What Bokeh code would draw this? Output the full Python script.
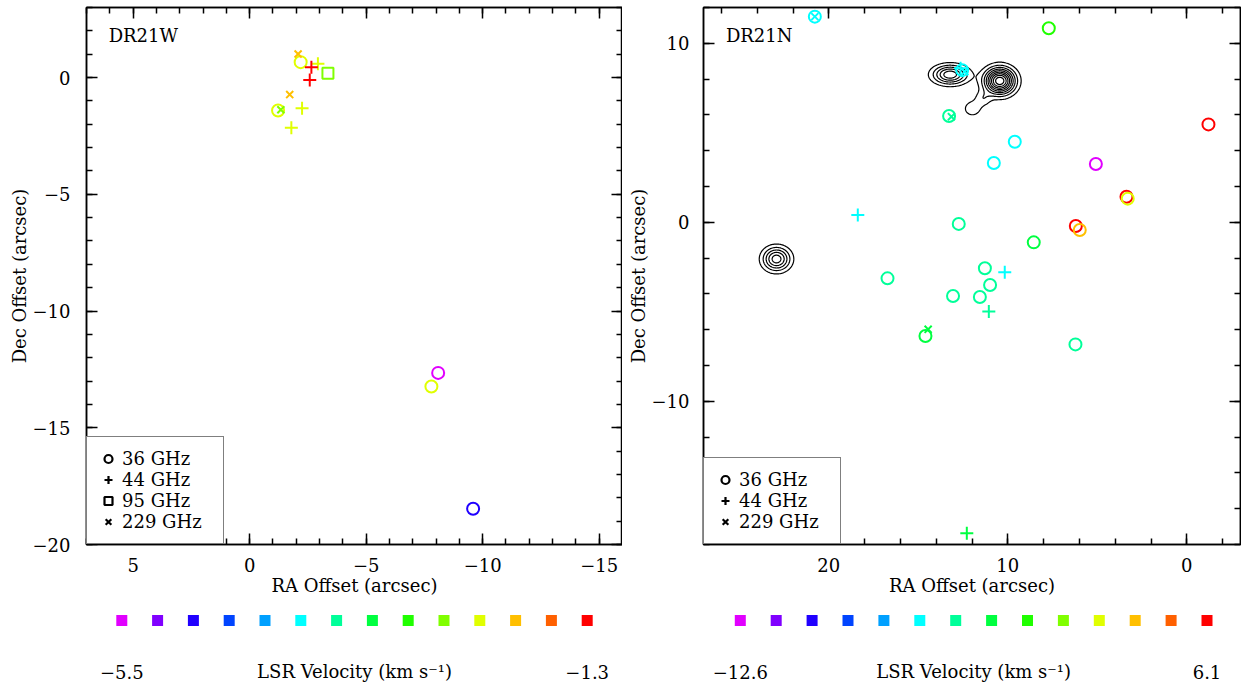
import numpy as np
from bokeh.plotting import figure
from bokeh.models import (Range1d, LinearAxis, SingleIntervalTicker, CustomJSTickFormatter,
                          LinearColorMapper, ColumnDataSource, Legend, LegendItem, Label)
from bokeh.layouts import row, column
from bokeh.embed import file_html
from bokeh.resources import INLINE

FONT = "DejaVu Serif"
FS = "18px"

# 14 velocity colour bins (low -> high)
PALETTE = ["#e100ff", "#8000ff", "#2000ff", "#0044ff", "#00a0ff", "#00ffff", "#00ff99",
           "#00ff40", "#20ff00", "#80ff00", "#e0ff00", "#ffbf00", "#ff6000", "#ff0000"]

# ---------------- DR21W ----------------
W_VLIM = [-5.5, -1.3]
W36_RA = [-2.19, -1.22, -8.09, -7.80, -9.59]
W36_DEC = [0.66, -1.41, -12.65, -13.23, -18.47]
W36_V = [-2.4, -2.4, -5.4, -2.4, -4.8]
W44_RA = [-2.93, -2.65, -2.58, -2.25, -1.79]
W44_DEC = [0.59, 0.44, -0.10, -1.31, -2.15]
W44_V = [-2.4, -1.45, -1.45, -2.4, -2.4]
W95_RA = [-3.36]
W95_DEC = [0.18]
W95_V = [-2.7]
W229_RA = [-2.08, -1.72, -1.34]
W229_DEC = [1.01, -0.73, -1.38]
W229_V = [-2.1, -2.1, -2.7]

# ---------------- DR21N ----------------
N_VLIM = [-12.6, 6.1]
N36_RA = [20.78, 7.71, 12.55, 13.28, -1.21, 9.61, 10.78, 5.08, 3.37, 3.30, 12.74,
          6.20, 5.98, 8.55, 16.72, 11.28, 10.99, 13.06, 11.56, 14.60, 6.22]
N36_DEC = [11.49, 10.84, 8.50, 5.94, 5.47, 4.50, 3.31, 3.26, 1.43, 1.32, -0.09,
           -0.21, -0.43, -1.12, -3.13, -2.57, -3.50, -4.12, -4.17, -6.35, -6.82]
N36_V = [-5.3, -1.3, -5.3, -3.9, 5.4, -5.3, -5.3, -11.9, 5.4, 1.4, -3.9,
         5.4, 2.8, -2.6, -3.9, -3.9, -3.9, -3.9, -3.9, -2.6, -3.9]
N44_RA = [12.64, 18.38, 10.17, 11.06, 12.29]
N44_DEC = [8.60, 0.41, -2.79, -4.99, -17.37]
N44_V = [-5.3, -5.3, -5.3, -3.9, -2.6]
N229_RA = [20.78, 12.40, 13.15, 14.45]
N229_DEC = [11.49, 8.41, 5.90, -5.98]
N229_V = [-5.3, -5.3, -3.9, -2.6]

# continuum sources (elliptical gaussian components) for the DR21N contours
SRC_RA = [13.22, 10.45, 11.40, 11.98, 22.92]
SRC_DEC = [8.25, 7.90, 6.90, 6.35, -2.05]
SRC_PEAK = [5.8, 9.8, 1.6, 1.9, 5.6]
SRC_SRA = [0.65, 0.56, 0.32, 0.34, 0.52]
SRC_SDEC = [0.36, 0.49, 0.30, 0.30, 0.45]
CONT_LEVELS = [1, 2, 3, 4, 5, 6, 7, 8, 9]


def tick_fmt():
    return CustomJSTickFormatter(
        code="const t = Math.round(tick); return t < 0 ? '\\u2212' + (-t) : '' + t;")


def style_axis(ax, major, show, label=None, standoff=10, lstandoff=0):
    ax.ticker = SingleIntervalTicker(interval=major, num_minor_ticks=5)
    ax.major_tick_in = 11
    ax.major_tick_out = 0
    ax.minor_tick_in = 6
    ax.minor_tick_out = 0
    for a in ("axis_line", "major_tick_line", "minor_tick_line"):
        setattr(ax, a + "_color", "black")
        setattr(ax, a + "_width", 1.5)
    if show:
        ax.formatter = tick_fmt()
        ax.major_label_text_font = FONT
        ax.major_label_text_font_size = FS
        ax.major_label_text_color = "black"
        ax.major_label_standoff = standoff
        if label:
            ax.axis_label = label
            ax.axis_label_text_font = FONT
            ax.axis_label_text_font_size = FS
            ax.axis_label_text_font_style = "normal"
            ax.axis_label_text_color = "black"
            ax.axis_label_standoff = lstandoff
    else:
        ax.formatter = CustomJSTickFormatter(code="return '';")
        ax.major_label_text_font_size = "0px"
        ax.major_label_standoff = 0


def make_panel(name, name_xy, x_rng, y_rng, major, width, height, bl, br, bt, bb, vlim, bands,
               ystand, contour=None):
    p = figure(width=width, height=height, x_range=Range1d(*x_rng), y_range=Range1d(*y_rng),
               output_backend="svg", toolbar_location=None,
               min_border_left=bl, min_border_right=br, min_border_top=bt, min_border_bottom=bb,
               x_axis_location=None, y_axis_location=None)
    p.grid.visible = False
    p.outline_line_color = "black"
    p.outline_line_width = 1.5
    p.background_fill_color = "white"

    axb = LinearAxis(); style_axis(axb, major, True, "RA Offset (arcsec)", 13, 0); p.add_layout(axb, "below")
    axt = LinearAxis(); style_axis(axt, major, False); p.add_layout(axt, "above")
    axl = LinearAxis(); style_axis(axl, major, True, "Dec Offset (arcsec)", ystand, 0); p.add_layout(axl, "left")
    axr = LinearAxis(); style_axis(axr, major, False); p.add_layout(axr, "right")

    if contour is not None:
        gx = np.linspace(min(x_rng), max(x_rng), 601)
        gy = np.linspace(min(y_rng), max(y_rng), 601)
        X, Y = np.meshgrid(gx, gy)
        Z = np.zeros_like(X)
        for ra, dec, pk, sra, sdec in zip(*contour[:5]):
            Z += pk * np.exp(-0.5 * (((X - ra) / sra) ** 2 + ((Y - dec) / sdec) ** 2))
        p.contour(gx, gy, Z, contour[5], line_color="black", line_width=1.2)

    mapper = LinearColorMapper(palette=PALETTE, low=vlim[0], high=vlim[1])
    items = []
    for label, ra, dec, v, marker, size, lw in bands:
        src = ColumnDataSource(dict(x=ra, y=dec, v=v))
        p.scatter("x", "y", source=src, marker=marker, size=size, fill_color=None,
                  line_color={"field": "v", "transform": mapper}, line_width=lw)
    for label, ra, dec, v, marker, size, lw in bands:
        # legend proxy (black symbol, not drawn in the plot area)
        r = p.scatter(x=[np.nan], y=[np.nan], marker=marker, size=size, fill_color=None,
                      line_color="black", line_width=2.2)
        items.append(LegendItem(label=label, renderers=[r]))

    leg = Legend(items=items, location="bottom_left", margin=0, padding=11, spacing=0,
                 glyph_width=20, glyph_height=21, label_height=21, label_width=90,
                 label_standoff=4, label_text_font=FONT, label_text_font_size=FS,
                 label_text_color="black",
                 label_text_baseline="middle", border_line_color="black",
                 border_line_width=1.2, background_fill_color="white", background_fill_alpha=1)
    p.add_layout(leg)

    p.add_layout(Label(x=name_xy[0], y=name_xy[1], text=name, text_font=FONT,
                       text_font_size=FS, text_color="black",
                       text_align="left", text_baseline="middle"))
    return p


def make_bar(vlim, width, height, first_c, step):
    low, high = vlim
    n = len(PALETTE)
    w = (high - low) / n
    centers = [low + (i + 0.5) * w for i in range(n)]
    x0 = centers[0] - first_c / step * w
    x1 = centers[0] + (width - first_c) / step * w
    c = figure(width=width, height=height, x_range=Range1d(x0, x1), y_range=Range1d(0, height),
               output_backend="svg", toolbar_location=None, min_border=0,
               x_axis_location=None, y_axis_location=None)
    c.grid.visible = False
    c.outline_line_color = None
    mapper = LinearColorMapper(palette=PALETTE, low=low, high=high)
    src = ColumnDataSource(dict(v=centers, y=[height - 12] * n))
    c.scatter("v", "y", source=src, marker="square", size=11, line_color=None,
              fill_color={"field": "v", "transform": mapper})

    def fm(val):
        s = f"{val:.1f}"
        return s.replace("-", "\u2212")
    for xv, t in ((centers[0], fm(low)), (centers[-1], fm(high)),
                  ((centers[0] + centers[-1]) / 2, "LSR Velocity (km s\u207b\u00b9)")):
        c.add_layout(Label(x=xv, y=13, text=t, text_font=FONT, text_font_size=FS,
                           text_color="black", text_align="center", text_baseline="middle"))
    return c


w_bands = [("36 GHz", W36_RA, W36_DEC, W36_V, "circle", 12, 2),
           ("44 GHz", W44_RA, W44_DEC, W44_V, "cross", 13, 2),
           ("95 GHz", W95_RA, W95_DEC, W95_V, "square", 11, 2),
           ("229 GHz", W229_RA, W229_DEC, W229_V, "x", 10, 2)]
n_bands = [("36 GHz", N36_RA, N36_DEC, N36_V, "circle", 12, 2),
           ("44 GHz", N44_RA, N44_DEC, N44_V, "cross", 13, 2),
           ("229 GHz", N229_RA, N229_DEC, N229_V, "x", 10, 2)]

p1 = make_panel("DR21W", (6.05, 1.8), (7, -16), (-20, 3), 5, 622, 608, 86, 0, 7, 64,
                W_VLIM, w_bands, 16)
p2 = make_panel("DR21N", (25.75, 10.42), (27, -3), (-18, 12), 10, 619, 608, 81, 1, 7, 64,
                N_VLIM, n_bands, 14,
                contour=(SRC_RA, SRC_DEC, SRC_PEAK, SRC_SRA, SRC_SDEC, CONT_LEVELS))

c1 = make_bar(W_VLIM, 622, 76, 121.3, 35.8)
c2 = make_bar(N_VLIM, 619, 76, 117.8, 35.9)

layout = column(row(p1, p2), row(c1, c2))
open("out.html", "w").write(file_html(layout, INLINE))
